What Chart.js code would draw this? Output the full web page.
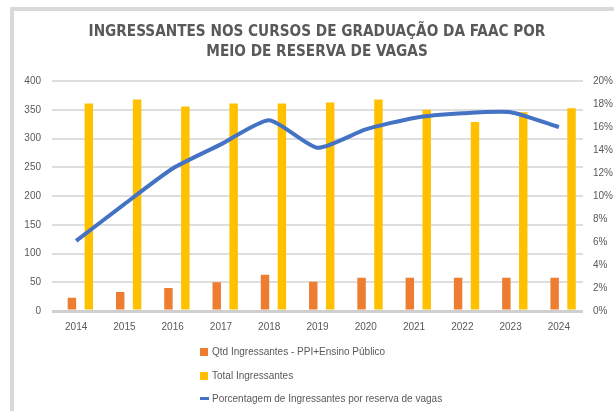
<!DOCTYPE html>
<html>
<head>
<meta charset="utf-8">
<script src="https://cdn.jsdelivr.net/npm/chart.js@4.4.1/dist/chart.umd.min.js"></script>
<style>
  html, body { margin: 0; padding: 0; background: #fff; overflow: hidden; }
  #wrap { position: relative; width: 614px; height: 411px; }
  #frame { position: absolute; left: 10px; top: 7px; width: 700px; height: 500px; border: 4px solid #d9d9d9; }
  #chart { position: absolute; left: 0; top: 0; }
  #legend { position: absolute; left: 200px; top: 345px; font: 10px "Liberation Sans", Arial, sans-serif; color: #595959; }
  #legend div { height: 23.5px; line-height: 14px; white-space: nowrap; }
  #legend span.box { display: inline-block; width: 8px; height: 8px; margin-right: 4px; vertical-align: -1px; }
  #legend span.ln { display: inline-block; width: 9px; height: 3px; margin-right: 3px; vertical-align: 2px; }
</style>
</head>
<body>
<div id="wrap">
  <div id="frame"></div>
  <canvas id="chart" width="614" height="411"></canvas>
  <div id="legend"></div>
</div>
<script>
// Data
const years = ['2014', '2015', '2016', '2017', '2018', '2019', '2020', '2021', '2022', '2023', '2024'];
const qtdPPI = [23, 33, 40, 50, 63, 51, 58, 58, 58, 58, 58];
const totalIngressantes = [361, 368, 356, 361, 361, 363, 368, 350, 329, 346, 353];
const porcentagem = [0.061, 0.093, 0.124, 0.145, 0.166, 0.142, 0.158, 0.168, 0.172, 0.173, 0.160];
const spacer = [0, 0, 0, 0, 0, 0, 0, 0, 0, 0, 0];

const labelPPI = 'Qtd Ingressantes - PPI+Ensino Público';
const labelTotal = 'Total Ingressantes';
const labelPct = 'Porcentagem de Ingressantes por reserva de vagas';

const tickFont = { family: '"Liberation Sans", Arial, sans-serif', size: 10 };
const grey = '#595959';

const ctx = document.getElementById('chart').getContext('2d');
const chart = new Chart(ctx, {
    type: 'bar',
    data: {
        labels: years,
        datasets: [
            {
                type: 'line',
                label: labelPct,
                data: porcentagem,
                yAxisID: 'yR',
                borderColor: '#4472C4',
                borderWidth: 4,
                pointRadius: 0,
                tension: 0.2,
                order: 0
            },
            { label: '', data: spacer, backgroundColor: 'rgba(0,0,0,0)', borderWidth: 0, order: 1 },
            { label: labelPPI, data: qtdPPI, backgroundColor: '#ED7D31', order: 1 },
            { label: '', data: spacer, backgroundColor: 'rgba(0,0,0,0)', borderWidth: 0, order: 1 },
            { label: labelTotal, data: totalIngressantes, backgroundColor: '#FFC000', order: 1 }
        ]
    },
    options: {
        responsive: false,
        animation: false,
        layout: { padding: { left: 20, right: 0, top: 0, bottom: 68 } },
        datasets: { bar: { categoryPercentage: 0.7, barPercentage: 1.0 } },
        plugins: {
            legend: { display: false },
            tooltip: { enabled: false },
            title: {
                display: true,
                text: ['INGRESSANTES NOS CURSOS DE GRADUAÇÃO DA FAAC POR', 'MEIO DE RESERVA DE VAGAS'],
                color: grey,
                font: { family: '"DejaVu Sans Condensed", "DejaVu Sans", sans-serif', size: 15.2, weight: 'bold', lineHeight: 1.32 },
                padding: { top: 22, bottom: 19 }
            }
        },
        scales: {
            x: {
                grid: { display: false, drawTicks: false },
                border: { display: false },
                ticks: { color: grey, font: tickFont, padding: 10 }
            },
            y: {
                position: 'left',
                min: 0,
                max: 400,
                ticks: { stepSize: 50, color: grey, font: tickFont, padding: 11 },
                grid: {
                    drawTicks: false,
                    color: c => c.tick.value === 0 ? '#cfcfcf' : '#dedede',
                    lineWidth: c => c.tick.value === 0 ? 3 : 2
                },
                border: { display: false },
                afterFit: s => { s.width = 32; }
            },
            yR: {
                position: 'right',
                min: 0,
                max: 0.2,
                ticks: {
                    stepSize: 0.02,
                    color: grey,
                    font: tickFont,
                    padding: 10,
                    callback: v => Math.round(v * 100) + '%'
                },
                grid: { display: false, drawTicks: false },
                border: { display: false },
                afterFit: s => { s.width = 31; }
            }
        }
    }
});

// Legend in a column, like the original
const legend = document.getElementById('legend');
[[labelPPI, '#ED7D31', 'box'], [labelTotal, '#FFC000', 'box'], [labelPct, '#4472C4', 'ln']].forEach(item => {
    const row = document.createElement('div');
    const mark = document.createElement('span');
    mark.className = item[2];
    mark.style.background = item[1];
    row.appendChild(mark);
    row.appendChild(document.createTextNode(item[0]));
    legend.appendChild(row);
});
</script>
</body>
</html>
